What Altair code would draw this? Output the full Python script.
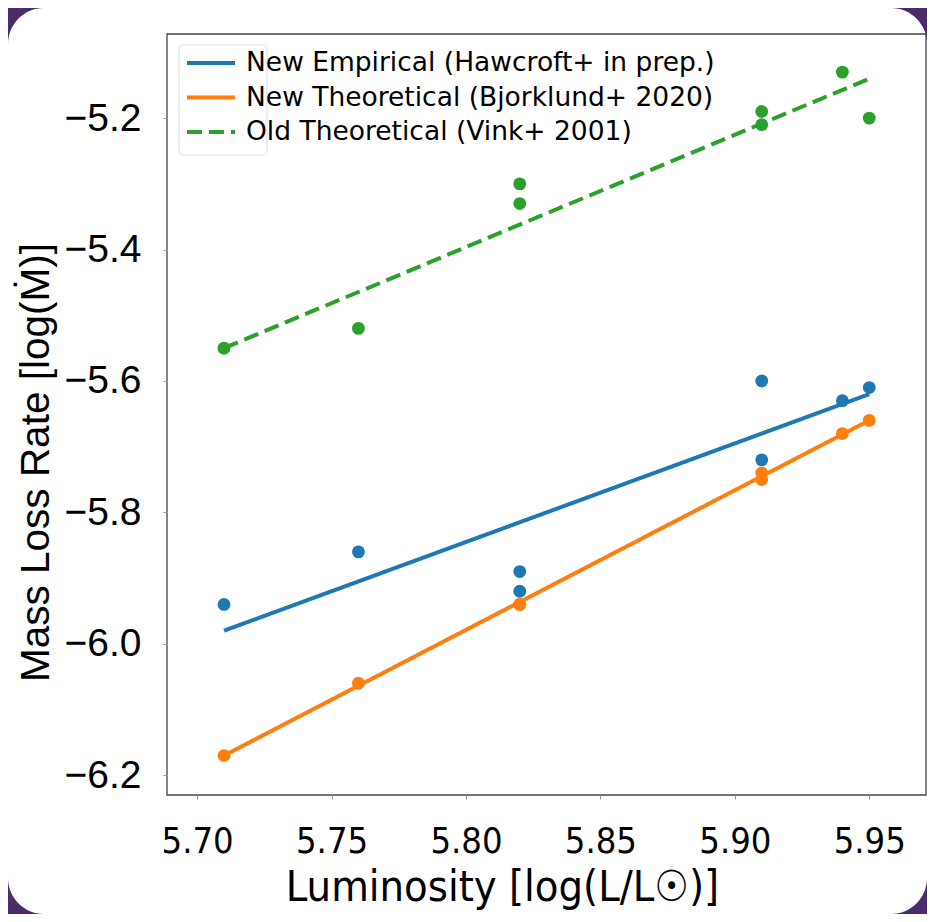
import altair as alt
import pandas as pd

# ---- data ----
lum = [5.71, 5.76, 5.82, 5.82, 5.91, 5.91, 5.94, 5.95]
empirical = [-5.94, -5.86, -5.89, -5.92, -5.60, -5.72, -5.63, -5.61]
bjorklund = [-6.17, -6.06, -5.94, -5.94, -5.74, -5.75, -5.68, -5.66]
vink = [-5.55, -5.52, -5.30, -5.33, -5.19, -5.21, -5.13, -5.20]

fit_lum = [5.71, 5.95]
fit_empirical = [-5.98, -5.62]
fit_bjorklund = [-6.17, -5.66]
fit_vink = [-5.55, -5.14]

series_names = [
    "New Empirical (Hawcroft+ in prep.)",
    "New Theoretical (Bjorklund+ 2020)",
    "Old Theoretical (Vink+ 2001)",
]
series_colors = ["#1f77b4", "#ff7f0e", "#2ca02c"]
series_dashes = [[1, 0], [1, 0], [15, 7]]

x_ticks = [5.70, 5.75, 5.80, 5.85, 5.90, 5.95]
y_ticks = [-6.2, -6.0, -5.8, -5.6, -5.4, -5.2]

# ---- tables ----
pts_rows = []
for name, vals in zip(series_names, [empirical, bjorklund, vink]):
    for xv, yv in zip(lum, vals):
        pts_rows.append({"series": name, "lum": xv, "mdot": yv})
pts = pd.DataFrame(pts_rows)

fit_rows = []
for name, vals in zip(series_names, [fit_empirical, fit_bjorklund, fit_vink]):
    for xv, yv in zip(fit_lum, vals):
        fit_rows.append({"series": name, "lum": xv, "mdot": yv})
fit = pd.DataFrame(fit_rows)

W, H = 759, 761
PAD = {"left": 159, "top": 26, "right": 1, "bottom": 119}

xscale = alt.Scale(domain=[5.6888, 5.9711], nice=False, zero=False)
yscale = alt.Scale(domain=[-6.230, -5.072], nice=False, zero=False)
cscale = alt.Scale(domain=series_names, range=series_colors)
dscale = alt.Scale(domain=series_names, range=series_dashes)

cond_font = "Liberation Sans Narrow, DejaVu Sans Condensed, Roboto Condensed, Liberation Sans"

x_axis = alt.Axis(
    values=x_ticks, format=".2f", grid=False, domain=False,
    tickSize=4, tickColor="#999999", tickWidth=1,
    labelFont=cond_font, labelFontSize=36, labelColor="black",
    labelBaseline="alphabetic", labelPadding=53,
    title="Luminosity [log(L/L☉)]", titleFont=cond_font, titleFontSize=43,
    titleFontWeight="normal", titleColor="black",
    titleX=335, titleY=105, titleAlign="center", titleBaseline="alphabetic",
    zindex=1,
)
y_axis = alt.Axis(
    values=y_ticks, format=".1f", labelExpr="replace(datum.label, '-', '−')",
    grid=False, domain=False,
    tickSize=4, tickColor="#999999", tickWidth=1,
    labelFont="Liberation Sans", labelFontSize=39, labelColor="black",
    labelPadding=22,
    title="Mass Loss Rate [log(Ṁ)]", titleFont="Liberation Sans", titleFontSize=40.5,
    titleFontWeight="normal", titleColor="black",
    titleX=-119, titleY=428, titleAngle=270, titleAlign="center",
    titleBaseline="alphabetic",
    zindex=1,
)

one = alt.Data(values=[{"k": 1}])

panel = alt.Chart(one).mark_rect(fill="white", cornerRadius=36).encode(
    x=alt.value(-PAD["left"]), x2=alt.value(W + PAD["right"]),
    y=alt.value(-PAD["top"]), y2=alt.value(H + PAD["bottom"]),
)

legend_box = alt.Chart(one).mark_rect(
    fill="white", stroke="#dddddd", strokeWidth=1, cornerRadius=4
).encode(
    x=alt.value(12), x2=alt.value(100), y=alt.value(11), y2=alt.value(121),
)

points = alt.Chart(pts).mark_circle(size=165, opacity=1).encode(
    x=alt.X("lum:Q", scale=xscale, axis=x_axis),
    y=alt.Y("mdot:Q", scale=yscale, axis=y_axis),
    color=alt.Color("series:N", scale=cscale, legend=None),
)

legend = alt.Legend(
    title=None, orient="none", legendX=18, legendY=12,
    symbolType="stroke", symbolSize=2304, symbolStrokeWidth=4,
    labelFont="DejaVu Sans", labelFontSize=26.5, labelColor="black",
    labelOffset=9, rowPadding=0.5, clipHeight=34, padding=0, labelLimit=700,
    zindex=1,
)

lines = alt.Chart(fit).mark_line(strokeWidth=4).encode(
    x=alt.X("lum:Q", scale=xscale, axis=x_axis),
    y=alt.Y("mdot:Q", scale=yscale, axis=y_axis),
    color=alt.Color("series:N", scale=cscale, legend=legend),
    strokeDash=alt.StrokeDash("series:N", scale=dscale, legend=legend),
    detail="series:N",
)

frame = alt.Chart(one).mark_rect(fill=None, stroke="#444444", strokeWidth=1.3).encode(
    x=alt.value(0), x2=alt.value(W), y=alt.value(0), y2=alt.value(H),
)

chart = alt.layer(panel, legend_box, points, lines, frame).resolve_legend(
    color="independent", strokeDash="independent"
).properties(
    width=W, height=H,
    autosize=alt.AutoSizeParams(type="none"),
    padding=PAD,
    background="#4a2c6a",
).configure_view(stroke=None, fill="white")

chart.save("out.html", embed_options={"renderer": "svg", "actions": False})
